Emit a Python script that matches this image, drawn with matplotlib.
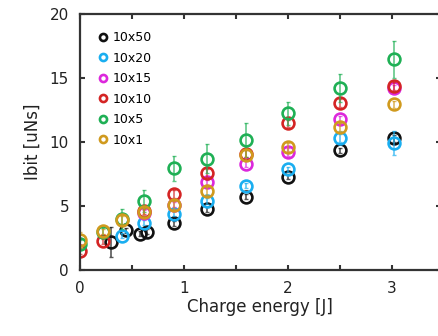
import numpy as np
import matplotlib
matplotlib.use("Agg")
import matplotlib.pyplot as plt
from matplotlib.ticker import MultipleLocator

# Datos (energia de carga [J], Ibit [uNs], error)
labels = ["10x50", "10x20", "10x15", "10x10", "10x5", "10x1"]
colors = ["#111111", "#1aaef0", "#dc28dc", "#d42424", "#1fb055", "#d09a1e"]

x_10x50 = [0.30, 0.44, 0.58, 0.64, 0.90, 1.22, 1.60, 2.00, 2.50, 3.02]
y_10x50 = [2.2, 3.1, 2.86, 3.0, 3.65, 4.74, 5.73, 7.3, 9.38, 10.29]
e_10x50 = [1.2, 0.2, 0.2, 0.2, 0.2, 0.2, 0.2, 0.2, 0.2, 0.3]

x_10x20 = [0.40, 0.61, 0.90, 1.22, 1.60, 2.00, 2.50, 3.02]
y_10x20 = [2.7, 3.7, 4.4, 5.4, 6.6, 7.87, 10.34, 9.95]
e_10x20 = [0.2, 0.2, 0.2, 0.2, 0.2, 0.2, 0.3, 0.95]

x_10x15 = [0.61, 0.90, 1.22, 1.60, 2.00, 2.50, 3.02]
y_10x15 = [4.5, 5.1, 6.85, 8.33, 9.25, 11.77, 14.2]
e_10x15 = [0.2, 0.2, 0.2, 0.3, 0.3, 0.3, 0.3]

x_10x10 = [0.0, 0.22, 0.61, 0.90, 1.22, 1.60, 2.00, 2.50, 3.02]
y_10x10 = [1.5, 2.26, 4.6, 5.94, 7.6, 9.1, 11.46, 13.07, 14.37]
e_10x10 = [0.2, 0.2, 0.2, 0.3, 0.3, 0.3, 0.3, 0.3, 0.3]

x_10x5 = [0.0, 0.22, 0.40, 0.61, 0.90, 1.22, 1.60, 2.00, 2.50, 3.02]
y_10x5 = [2.05, 3.0, 4.0, 5.4, 7.94, 8.72, 10.16, 12.24, 14.2, 16.46]
e_10x5 = [0.3, 0.3, 0.8, 0.85, 1.0, 1.1, 1.35, 0.9, 1.1, 1.45]

x_10x1 = [0.0, 0.22, 0.40, 0.61, 0.90, 1.22, 1.60, 2.00, 2.50, 3.02]
y_10x1 = [2.35, 3.05, 3.9, 4.55, 5.08, 6.17, 8.98, 9.6, 11.2, 12.94]
e_10x1 = [0.6, 0.2, 0.3, 0.3, 0.3, 0.3, 0.4, 0.3, 0.3, 0.3]

series = [
    (x_10x50, y_10x50, e_10x50),
    (x_10x20, y_10x20, e_10x20),
    (x_10x15, y_10x15, e_10x15),
    (x_10x10, y_10x10, e_10x10),
    (x_10x5, y_10x5, e_10x5),
    (x_10x1, y_10x1, e_10x1),
]

fig = plt.figure(figsize=(4.38, 3.36), dpi=100)
# el eje derecho queda justo fuera de la imagen, como en el original
ax = fig.add_axes([0.183, 0.196, 0.823, 0.762])

for (xs, ys, es), lab, col in zip(series, labels, colors):
    ax.errorbar(xs, ys, yerr=es, fmt="none", ecolor=col, elinewidth=1.2,
                capsize=1.5, alpha=0.7)
    ax.plot(xs, ys, "o", ms=8.5, mfc="none", mec=col, mew=1.9, label=lab)

ax.set_xlim(0, 3.47)
ax.set_ylim(0, 20)
ax.xaxis.set_major_locator(MultipleLocator(1))
ax.xaxis.set_minor_locator(MultipleLocator(0.5))
ax.yaxis.set_major_locator(MultipleLocator(5))
ax.tick_params(which="both", direction="in", top=True, right=True,
               length=3.5, width=1.5, color="#333333", labelsize=11, pad=8,
               labelcolor="#222222")
for s in ax.spines.values():
    s.set_linewidth(1.6)
    s.set_color("#333333")

ax.set_xlabel("Charge energy [J]", fontsize=12, labelpad=1, color="#222222")
ax.set_ylabel("Ibit [uNs]", fontsize=12, labelpad=6, color="#222222")

leg = ax.legend(loc="upper left", frameon=False, fontsize=9, markerscale=0.6,
                handlelength=0.6, handletextpad=0.4, labelspacing=0.6,
                borderaxespad=0.3, bbox_to_anchor=(0.03, 0.968))

fig.savefig("out.png", dpi=100)
